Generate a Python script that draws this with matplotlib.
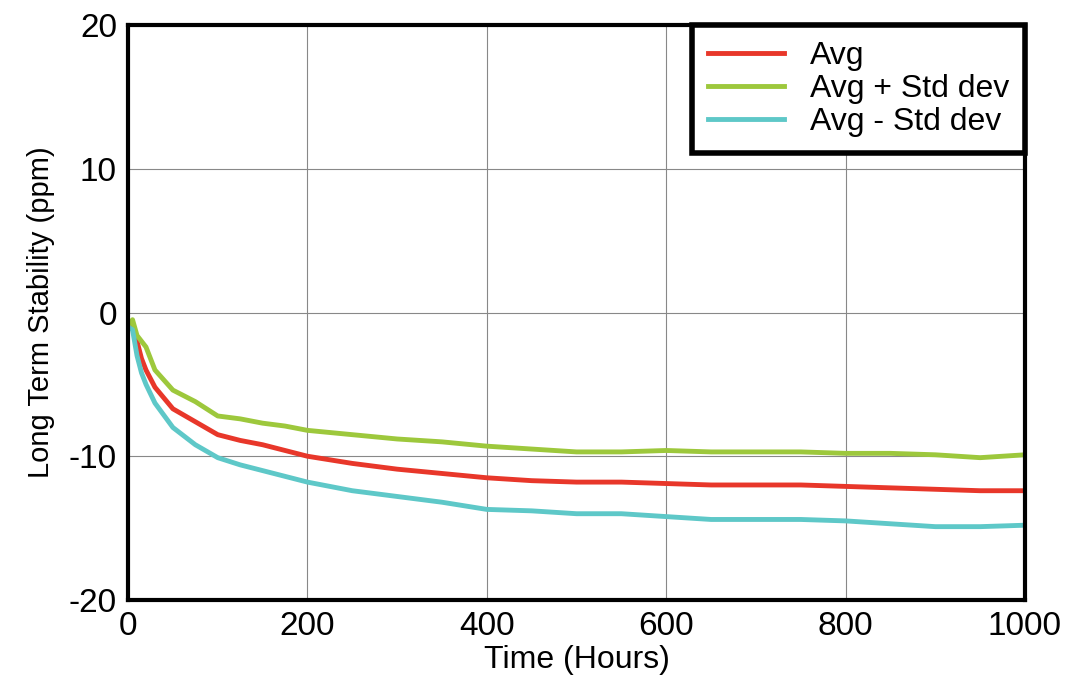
import matplotlib
matplotlib.use("Agg")
import matplotlib.pyplot as plt

t = [0, 5, 10, 15, 20, 30, 50, 75, 100, 125, 150, 175, 200, 250, 300, 350, 400, 450, 500, 550, 600, 650, 700, 750, 800, 850, 900, 950, 1000]
avg = [-1.0, -0.8, -2.0, -3.2, -4.0, -5.2, -6.7, -7.6, -8.5, -8.9, -9.2, -9.6, -10.0, -10.5, -10.9, -11.2, -11.5, -11.7, -11.8, -11.8, -11.9, -12.0, -12.0, -12.0, -12.1, -12.2, -12.3, -12.4, -12.4]
avg_p = [-1.0, -0.5, -1.6, -2.0, -2.4, -4.0, -5.4, -6.2, -7.2, -7.4, -7.7, -7.9, -8.2, -8.5, -8.8, -9.0, -9.3, -9.5, -9.7, -9.7, -9.6, -9.7, -9.7, -9.7, -9.8, -9.8, -9.9, -10.1, -9.9]
avg_m = [-1.0, -1.2, -3.0, -4.2, -5.0, -6.3, -8.0, -9.2, -10.1, -10.6, -11.0, -11.4, -11.8, -12.4, -12.8, -13.2, -13.7, -13.8, -14.0, -14.0, -14.2, -14.4, -14.4, -14.4, -14.5, -14.7, -14.9, -14.9, -14.8]

plt.rcParams['font.family'] = ['Liberation Sans', 'DejaVu Sans']
plt.rcParams['axes.unicode_minus'] = False
fig = plt.figure(figsize=(10.76, 6.96), dpi=100)
ax = fig.add_axes([0.119, 0.138, 0.8336, 0.826])
ax.plot(t, avg, color='#e8372a', lw=3.5, label='Avg')
ax.plot(t, avg_p, color='#9dc83c', lw=3.5, label='Avg + Std dev')
ax.plot(t, avg_m, color='#5ec8c8', lw=3.5, label='Avg - Std dev')
ax.set_xlim(0, 1000)
ax.set_ylim(-20, 20)
ax.set_xticks(range(0, 1001, 200))
ax.set_yticks(range(-20, 21, 10))
ax.grid(True, color='#888888', lw=0.8)
for s in ax.spines.values():
    s.set_linewidth(3)
ax.tick_params(labelsize=24, length=0, pad=8)
ax.set_xlabel('Time (Hours)', fontsize=23, labelpad=2)
ax.set_ylabel('Long Term Stability (ppm)', fontsize=21, labelpad=10)
leg = ax.legend(loc='upper right', fontsize=23, fancybox=False, framealpha=1,
                edgecolor='black', borderaxespad=0, handlelength=2.4, borderpad=0.5,
                labelspacing=0.1, handletextpad=0.8)
leg.get_frame().set_linewidth(4)
fig.savefig('out.png', dpi=100)
